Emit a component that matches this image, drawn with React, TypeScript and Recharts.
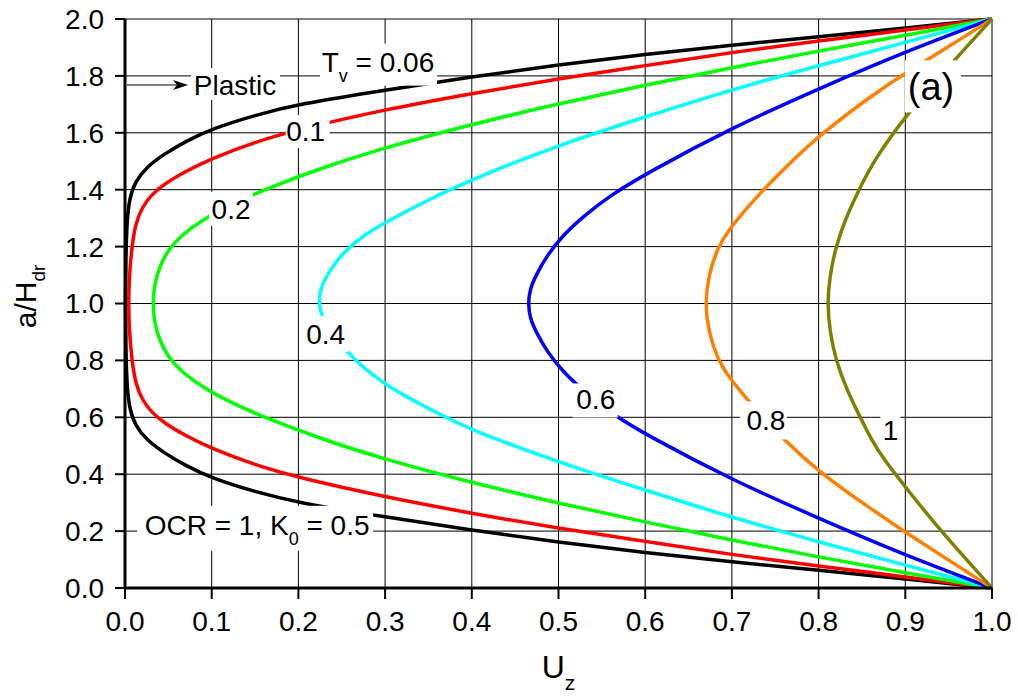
import React from 'react';
import { LineChart, Line, XAxis, YAxis, CartesianGrid, ReferenceDot } from 'recharts';

type Pt = { u: number; a: number };

const FONT = '"Liberation Sans", Arial, Helvetica, sans-serif';

const xTicks = [0, 0.1, 0.2, 0.3, 0.4, 0.5, 0.6, 0.7, 0.8, 0.9, 1.0];
const yTicks = [0, 0.2, 0.4, 0.6, 0.8, 1.0, 1.2, 1.4, 1.6, 1.8, 2.0];

// isochrones, listed from a/Hdr = 0 up to a/Hdr = 2
const tv006: Pt[] = [
  { u: 1, a: 0 }, { u: 0.9, a: 0.032 }, { u: 0.8, a: 0.062 }, { u: 0.7, a: 0.092 },
  { u: 0.6, a: 0.124 }, { u: 0.5, a: 0.161 }, { u: 0.4, a: 0.203 }, { u: 0.3, a: 0.25 },
  { u: 0.2, a: 0.299 }, { u: 0.15, a: 0.338 }, { u: 0.1, a: 0.386 }, { u: 0.07, a: 0.43 },
  { u: 0.045, a: 0.475 }, { u: 0.025, a: 0.52 }, { u: 0.012, a: 0.57 }, { u: 0.005, a: 0.63 },
  { u: 0.002, a: 0.72 }, { u: 0.001, a: 0.85 }, { u: 0.0005, a: 1.0 }, { u: 0.001, a: 1.15 },
  { u: 0.002, a: 1.28 }, { u: 0.005, a: 1.37 }, { u: 0.012, a: 1.43 }, { u: 0.025, a: 1.48 },
  { u: 0.045, a: 1.525 }, { u: 0.07, a: 1.57 }, { u: 0.1, a: 1.614 }, { u: 0.15, a: 1.662 },
  { u: 0.2, a: 1.701 }, { u: 0.3, a: 1.75 }, { u: 0.4, a: 1.797 }, { u: 0.5, a: 1.839 },
  { u: 0.6, a: 1.876 }, { u: 0.7, a: 1.908 }, { u: 0.8, a: 1.938 }, { u: 0.9, a: 1.968 },
  { u: 1, a: 2 },
];

const tv01: Pt[] = [
  { u: 1, a: 0 }, { u: 0.9, a: 0.039 }, { u: 0.8, a: 0.077 }, { u: 0.7, a: 0.117 },
  { u: 0.6, a: 0.164 }, { u: 0.5, a: 0.21 }, { u: 0.4, a: 0.262 }, { u: 0.3, a: 0.32 },
  { u: 0.2, a: 0.388 }, { u: 0.15, a: 0.432 }, { u: 0.1, a: 0.49 }, { u: 0.07, a: 0.535 },
  { u: 0.045, a: 0.58 }, { u: 0.03, a: 0.62 }, { u: 0.02, a: 0.66 }, { u: 0.012, a: 0.72 },
  { u: 0.008, a: 0.8 }, { u: 0.005, a: 0.9 }, { u: 0.004, a: 1.0 }, { u: 0.005, a: 1.1 },
  { u: 0.008, a: 1.2 }, { u: 0.012, a: 1.28 }, { u: 0.02, a: 1.34 }, { u: 0.03, a: 1.38 },
  { u: 0.045, a: 1.42 }, { u: 0.07, a: 1.465 }, { u: 0.1, a: 1.51 }, { u: 0.15, a: 1.568 },
  { u: 0.2, a: 1.612 }, { u: 0.3, a: 1.682 }, { u: 0.4, a: 1.738 }, { u: 0.5, a: 1.79 },
  { u: 0.6, a: 1.836 }, { u: 0.7, a: 1.883 }, { u: 0.8, a: 1.923 }, { u: 0.9, a: 1.961 },
  { u: 1, a: 2 },
];

const tv02: Pt[] = [
  { u: 1, a: 0 }, { u: 0.9, a: 0.053 }, { u: 0.8, a: 0.109 }, { u: 0.7, a: 0.168 },
  { u: 0.6, a: 0.232 }, { u: 0.5, a: 0.298 }, { u: 0.4, a: 0.37 }, { u: 0.3, a: 0.452 },
  { u: 0.23, a: 0.52 }, { u: 0.16, a: 0.6 }, { u: 0.12, a: 0.655 }, { u: 0.09, a: 0.705 },
  { u: 0.065, a: 0.76 }, { u: 0.05, a: 0.81 }, { u: 0.04, a: 0.87 }, { u: 0.034, a: 0.93 },
  { u: 0.032, a: 1.0 }, { u: 0.034, a: 1.07 }, { u: 0.04, a: 1.13 }, { u: 0.05, a: 1.19 },
  { u: 0.065, a: 1.24 }, { u: 0.09, a: 1.295 }, { u: 0.12, a: 1.345 }, { u: 0.16, a: 1.4 },
  { u: 0.23, a: 1.48 }, { u: 0.3, a: 1.548 }, { u: 0.4, a: 1.63 }, { u: 0.5, a: 1.702 },
  { u: 0.6, a: 1.768 }, { u: 0.7, a: 1.829 }, { u: 0.8, a: 1.888 }, { u: 0.9, a: 1.942 },
  { u: 1, a: 2 },
];

const tv04: Pt[] = [
  { u: 1, a: 0 }, { u: 0.9, a: 0.08 }, { u: 0.8, a: 0.162 }, { u: 0.7, a: 0.248 },
  { u: 0.6, a: 0.344 }, { u: 0.5, a: 0.442 }, { u: 0.4, a: 0.555 }, { u: 0.37, a: 0.6 },
  { u: 0.3, a: 0.71 }, { u: 0.265, a: 0.8 }, { u: 0.245, a: 0.87 }, { u: 0.23, a: 0.93 },
  { u: 0.2225, a: 1.0 }, { u: 0.226, a: 1.06 }, { u: 0.237, a: 1.12 }, { u: 0.252, a: 1.18 },
  { u: 0.275, a: 1.24 }, { u: 0.305, a: 1.293 }, { u: 0.35, a: 1.365 }, { u: 0.4, a: 1.436 },
  { u: 0.5, a: 1.557 }, { u: 0.6, a: 1.656 }, { u: 0.7, a: 1.752 }, { u: 0.8, a: 1.836 },
  { u: 0.9, a: 1.918 }, { u: 1, a: 2 },
];

const tv06: Pt[] = [
  { u: 1, a: 0 }, { u: 0.9, a: 0.115 }, { u: 0.8, a: 0.245 }, { u: 0.7, a: 0.38 },
  { u: 0.6, a: 0.54 }, { u: 0.56, a: 0.615 }, { u: 0.53, a: 0.69 }, { u: 0.505, a: 0.76 },
  { u: 0.487, a: 0.83 }, { u: 0.474, a: 0.9 }, { u: 0.467, a: 0.95 }, { u: 0.465, a: 1.0 },
  { u: 0.467, a: 1.05 }, { u: 0.474, a: 1.1 }, { u: 0.487, a: 1.17 }, { u: 0.505, a: 1.24 },
  { u: 0.53, a: 1.31 }, { u: 0.56, a: 1.38 }, { u: 0.6, a: 1.455 }, { u: 0.7, a: 1.618 },
  { u: 0.8, a: 1.755 }, { u: 0.9, a: 1.885 }, { u: 1, a: 2 },
];

const tv08: Pt[] = [
  { u: 1, a: 0 }, { u: 0.95, a: 0.098 }, { u: 0.9, a: 0.196 }, { u: 0.863, a: 0.273 },
  { u: 0.8, a: 0.408 }, { u: 0.759, a: 0.525 }, { u: 0.733, a: 0.61 }, { u: 0.713, a: 0.68 },
  { u: 0.697, a: 0.74 }, { u: 0.684, a: 0.8 }, { u: 0.673, a: 0.9 }, { u: 0.669, a: 1.0 },
  { u: 0.673, a: 1.1 }, { u: 0.684, a: 1.2 }, { u: 0.697, a: 1.26 }, { u: 0.713, a: 1.32 },
  { u: 0.733, a: 1.39 }, { u: 0.759, a: 1.47 }, { u: 0.8, a: 1.59 }, { u: 0.863, a: 1.735 },
  { u: 0.9, a: 1.81 }, { u: 0.95, a: 1.902 }, { u: 1, a: 2 },
];

const tv1: Pt[] = [
  { u: 1, a: 0 }, { u: 0.94, a: 0.203 }, { u: 0.9, a: 0.355 }, { u: 0.876, a: 0.449 },
  { u: 0.861, a: 0.52 }, { u: 0.848, a: 0.6 }, { u: 0.832, a: 0.7 }, { u: 0.82, a: 0.8 },
  { u: 0.813, a: 0.9 }, { u: 0.81, a: 1.0 }, { u: 0.813, a: 1.1 }, { u: 0.82, a: 1.2 },
  { u: 0.83, a: 1.29 }, { u: 0.845, a: 1.39 }, { u: 0.863, a: 1.5 }, { u: 0.9, a: 1.66 },
  { u: 0.955, a: 1.85 }, { u: 1, a: 2 },
];

const curves = [
  { key: 'tv006', color: '#000000', data: tv006 },
  { key: 'tv01', color: '#ff0000', data: tv01 },
  { key: 'tv02', color: '#00ff00', data: tv02 },
  { key: 'tv04', color: '#00ffff', data: tv04 },
  { key: 'tv06', color: '#0000ff', data: tv06 },
  { key: 'tv08', color: '#ff8000', data: tv08 },
  { key: 'tv1', color: '#808000', data: tv1 },
];

// white box with text on top, centred on the dot; box = [left, top, right, bottom] extents
const Note = (props: any) => {
  const { cx, cy, box, size = 28, children, extra } = props;
  const [l, t, r, b] = box;
  return (
    <g>
      <rect x={cx - l} y={cy - t} width={l + r} height={t + b} fill="#ffffff" />
      {extra}
      <text
        x={cx}
        y={cy + size * 0.358}
        textAnchor="middle"
        fontSize={size}
        fontFamily={FONT}
        fill="#000"
        style={{ whiteSpace: 'pre' }}
      >
        {children}
      </text>
    </g>
  );
};

const XTitle = (props: any) => {
  const { viewBox } = props;
  return (
    <text
      x={viewBox.x + viewBox.width / 2}
      y={viewBox.y + 90}
      textAnchor="middle"
      fontSize={32}
      fontFamily={FONT}
      fill="#000"
    >
      U<tspan fontSize={21} dy={12}>z</tspan>
    </text>
  );
};

const YTitle = (props: any) => {
  const { viewBox } = props;
  const cy = viewBox.y + viewBox.height / 2 - 7;
  return (
    <text
      transform={`translate(36, ${cy}) rotate(-90)`}
      textAnchor="middle"
      fontSize={30}
      fontFamily={FONT}
      fill="#000"
    >
      a/H<tspan fontSize={19} dy={9}>dr</tspan>
    </text>
  );
};

const tickStyle = { fontSize: 28, fill: '#000', fontFamily: FONT };

export default function App() {
  return (
    <div style={{ position: 'absolute', left: 0, top: 0, background: '#fff', fontFamily: FONT }}>
      <LineChart width={1018} height={696} margin={{ top: 19, right: 26, bottom: 0, left: 0 }}>
        <CartesianGrid stroke="#000" strokeWidth={1} />
        <XAxis
          type="number"
          dataKey="u"
          domain={[0, 1]}
          ticks={xTicks}
          interval={0}
          height={108}
          tickFormatter={(v: number) => v.toFixed(1)}
          tick={tickStyle}
          tickSize={11}
          tickMargin={12}
          axisLine={{ stroke: '#000', strokeWidth: 3 }}
          tickLine={{ stroke: '#000', strokeWidth: 2 }}
          label={<XTitle />}
        />
        <XAxis
          xAxisId="top"
          orientation="top"
          type="number"
          domain={[0, 1]}
          ticks={xTicks}
          interval={0}
          height={0}
          mirror
          tickSize={11}
          tickFormatter={() => ''}
          axisLine={{ stroke: '#000', strokeWidth: 3 }}
          tickLine={{ stroke: '#000', strokeWidth: 2 }}
        />
        <YAxis
          type="number"
          domain={[0, 2]}
          ticks={yTicks}
          interval={0}
          width={125}
          tickFormatter={(v: number) => v.toFixed(1)}
          tick={tickStyle}
          tickSize={10}
          tickMargin={11}
          axisLine={{ stroke: '#000', strokeWidth: 3 }}
          tickLine={{ stroke: '#000', strokeWidth: 2 }}
          label={<YTitle />}
        />
        {curves.map((c) => (
          <Line
            key={c.key}
            data={c.data}
            dataKey="a"
            type="basis"
            stroke={c.color}
            strokeWidth={3.5}
            dot={false}
            activeDot={false}
            isAnimationActive={false}
          />
        ))}
        <ReferenceDot
          x={0.2918}
          y={1.8502}
          r={1}
          shape={(p: any) => (
            <Note cx={p.cx} cy={p.cy} box={[58, 18, 59, 24]}>
              T<tspan fontSize={18} dy={10}>v</tspan>
              <tspan dy={-10}> = 0.06</tspan>
            </Note>
          )}
        />
        <ReferenceDot
          x={0.1269}
          y={1.7681}
          r={1}
          shape={(p: any) => (
            <Note
              cx={p.cx}
              cy={p.cy}
              box={[44, 17, 45, 15]}
              extra={
                <g>
                  <line x1={p.cx - 108} y1={p.cy} x2={p.cx - 52} y2={p.cy} stroke="#000" strokeWidth={1} />
                  <polygon
                    points={`${p.cx - 47},${p.cy} ${p.cx - 62},${p.cy - 5} ${p.cx - 58},${p.cy} ${p.cx - 62},${p.cy + 5}`}
                    fill="#000"
                  />
                </g>
              }
            >
              Plastic
            </Note>
          )}
        />
        <ReferenceDot
          x={0.2084}
          y={1.6063}
          r={1}
          shape={(p: any) => (
            <Note cx={p.cx} cy={p.cy} box={[20, 16, 24, 17]}>0.1</Note>
          )}
        />
        <ReferenceDot
          x={0.1223}
          y={1.3331}
          r={1}
          shape={(p: any) => (
            <Note cx={p.cx} cy={p.cy} box={[22, 17, 22, 17]}>0.2</Note>
          )}
        />
        <ReferenceDot
          x={0.2314}
          y={0.8934}
          r={1}
          shape={(p: any) => (
            <Note cx={p.cx} cy={p.cy} box={[24, 18, 23, 18]}>0.4</Note>
          )}
        />
        <ReferenceDot
          x={0.543}
          y={0.6627}
          r={1}
          shape={(p: any) => (
            <Note cx={p.cx} cy={p.cy} box={[23, 16, 22, 18]}>0.6</Note>
          )}
        />
        <ReferenceDot
          x={0.7392}
          y={0.5889}
          r={1}
          shape={(p: any) => (
            <Note cx={p.cx} cy={p.cy} box={[26, 19, 21, 19]}>0.8</Note>
          )}
        />
        <ReferenceDot
          x={0.8829}
          y={0.5547}
          r={1}
          shape={(p: any) => (
            <Note cx={p.cx} cy={p.cy} box={[10, 17, 10, 17]}>1</Note>
          )}
        />
        <ReferenceDot
          x={0.9296}
          y={1.7633}
          r={1}
          shape={(p: any) => (
            <Note cx={p.cx} cy={p.cy} box={[26, 26, 30, 26]} size={38}>(a)</Note>
          )}
        />
        <ReferenceDot
          x={0.1524}
          y={0.2222}
          r={1}
          shape={(p: any) => (
            <Note cx={p.cx} cy={p.cy} box={[120, 19, 116, 26]}>
              OCR = 1, K<tspan fontSize={18} dy={10}>0</tspan>
              <tspan dy={-10}> = 0.5</tspan>
            </Note>
          )}
        />
      </LineChart>
    </div>
  );
}
